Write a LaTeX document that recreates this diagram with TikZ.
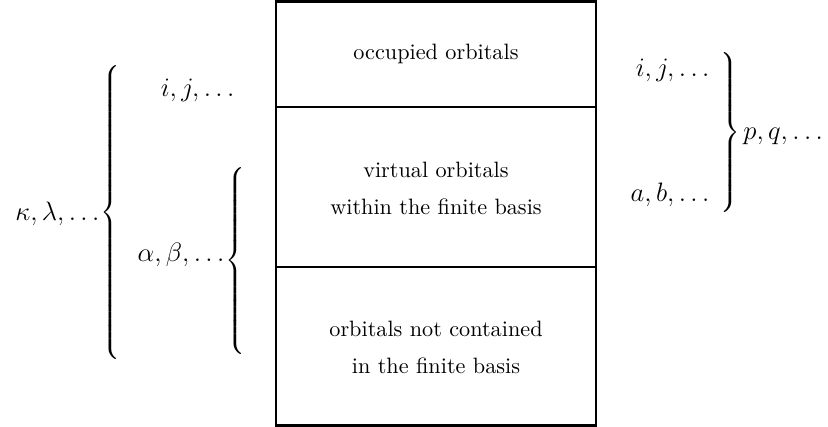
\documentclass[tikz,border=0pt]{standalone}
\newcommand{\mybrace}[1]{\ensuremath{\left\{\vcenter{\hbox{\rule{0pt}{#1}}}\right.}}
\newcommand{\myrbrace}[1]{\ensuremath{\left.\vcenter{\hbox{\rule{0pt}{#1}}}\right\}}}
\begin{document}
\begin{tikzpicture}[x=0.45pt,y=-0.45pt,
  cell/.style={align=center,font=\fontsize{10}{16.7}\selectfont},
  lab/.style={inner sep=0pt,font=\fontsize{12.5}{14}\selectfont},
  br/.style={inner sep=0pt,font=\fontsize{12.5}{14}\selectfont}]
\useasboundingbox (0,0) rectangle (828,427);
\draw[line width=1.2pt] (276,1.3) rectangle (596,425.3);
\coordinate (d1l) at (276,107);
\coordinate (d1r) at (596,107);
\coordinate (d2l) at (276,267);
\coordinate (d2r) at (596,267);
\draw[line width=1.2pt] (d1l) -- (d1r);
\draw[line width=1.2pt] (d2l) -- (d2r);
\node[cell] (occ) at (436,53.5) {occupied orbitals};
\node[cell] (virt) at (436,188) {virtual orbitals\\within the finite basis};
\node[cell] (notc) at (436,347) {orbitals not contained\\in the finite basis};
% left side
\node[br] (bigb) at (111.5,212.5) {\mybrace{133pt}};
\node[br] (smallb) at (236.5,261) {\mybrace{88pt}};
\node[lab,anchor=base east] (kl) at (100,221) {$\kappa,\lambda,\ldots$};
\node[lab,anchor=base east] (ab) at (225,262) {$\alpha,\beta,\ldots$};
\node[lab,anchor=base east] (ijl) at (235,97) {$i,j,\ldots$};
% right side
\node[br] (rb) at (729.5,132.5) {\myrbrace{74pt}};
\node[lab,anchor=base east] (ijr) at (710,77) {$i,j,\ldots$};
\node[lab,anchor=base east] (abr) at (710,202) {$a,b,\ldots$};
\node[lab,anchor=base west] (pq) at (743,140) {$p,q,\ldots$};
\end{tikzpicture}
\end{document}
